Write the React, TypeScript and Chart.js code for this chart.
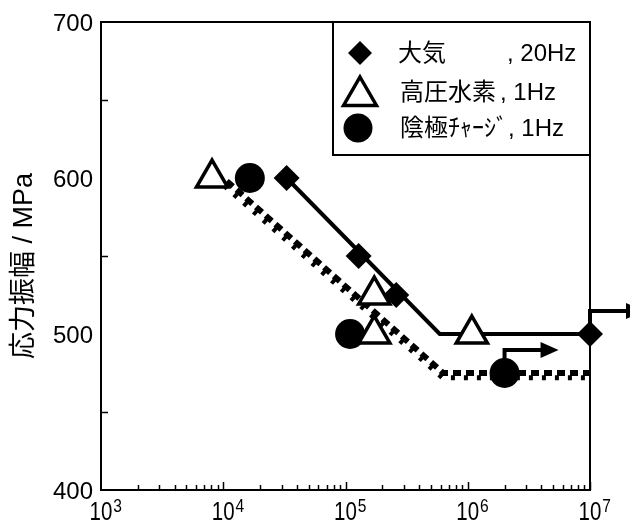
import { useEffect, useRef } from "react";
import { Chart, registerables } from "chart.js";

Chart.register(...registerables);

// ---- data ----
const airCycles = [3.3e4, 1.28e5, 2.6e5, 1e7];
const airStress = [600, 550, 525, 500];
const h2Cycles = [8.1e3, 1.72e5, 1.72e5, 1.08e6];
const h2Stress = [600, 525, 500, 500];
const cathCycles = [1.65e4, 1.09e5, 2.0e6];
const cathStress = [600, 500, 475];

const airFitCycles = [3.3e4, 5.9e5, 1e7];
const airFitStress = [600, 500, 500];
const h2FitCycles = [1.07e4, 6.3e5, 1e7];
const h2FitStress = [598, 475, 475];
const cathFitCycles = [1.02e4, 6.2e5, 1e7];
const cathFitStress = [595, 472, 472];

const runoutCycles = [1e7, 2.0e6];
const runoutStress = [500, 475];

const xTickExponents = [3, 4, 5, 6, 7];
const yTickValues = [400, 500, 600, 700];
const yMinorTicks = [450, 550, 650];

const legendNames = ["大気", "高圧水素", "陰極ﾁｬｰｼﾞ"];
const legendSuffixes = [", 20Hz", ", 1Hz", ", 1Hz"];
const yAxisTitle = "応力振幅 / MPa";

const toXY = (xs: number[], ys: number[]) => xs.map((x, i) => ({ x, y: ys[i] }));

const FONT_NUM = "'Liberation Sans', Arial, sans-serif";
const FONT_JP = "'Liberation Sans', 'Noto Sans CJK JP', sans-serif";

const decorPlugin = {
  id: "decor",
  beforeDatasetsDraw(chart: any) {
    const { ctx, scales } = chart;
    const xs = scales.x;
    const ys = scales.y;
    ctx.save();
    ctx.strokeStyle = "#000";
    ctx.fillStyle = "#000";
    // run-out arrows
    ctx.lineWidth = 4;
    runoutCycles.forEach((c, i) => {
      const px = xs.getPixelForValue(c);
      const py = ys.getPixelForValue(runoutStress[i]);
      const top = py - 23;
      const tip = px + 54;
      ctx.beginPath();
      ctx.moveTo(px, py);
      ctx.lineTo(px, top);
      ctx.lineTo(tip - 14, top);
      ctx.stroke();
      ctx.beginPath();
      ctx.moveTo(tip, top);
      ctx.lineTo(tip - 18, top - 8);
      ctx.lineTo(tip - 18, top + 8);
      ctx.closePath();
      ctx.fill();
    });
    ctx.restore();
  },
  afterDatasetsDraw(chart: any) {
    const { ctx, chartArea: a, scales } = chart;
    const xs = scales.x;
    const ys = scales.y;
    ctx.save();
    ctx.strokeStyle = "#000";
    ctx.fillStyle = "#000";
    ctx.lineWidth = 2;
    ctx.strokeRect(a.left, a.top, a.right - a.left, a.bottom - a.top);

    // x ticks (inward)
    ctx.lineWidth = 1.5;
    for (let n = xTickExponents[0]; n < xTickExponents[xTickExponents.length - 1]; n++) {
      for (let k = 2; k <= 10; k++) {
        const px = Math.round(xs.getPixelForValue(k * Math.pow(10, n))) + 0.5;
        const len = k === 10 ? 8 : 5;
        ctx.beginPath();
        ctx.moveTo(px, a.bottom);
        ctx.lineTo(px, a.bottom - len);
        ctx.stroke();
      }
    }
    // y minor ticks (inward)
    yMinorTicks.forEach((v) => {
      const py = Math.round(ys.getPixelForValue(v)) + 0.5;
      ctx.beginPath();
      ctx.moveTo(a.left, py);
      ctx.lineTo(a.left + 7, py);
      ctx.stroke();
    });

    // y tick labels
    ctx.font = `24px ${FONT_NUM}`;
    ctx.textAlign = "right";
    ctx.textBaseline = "middle";
    yTickValues.forEach((v) => {
      ctx.fillText(String(v), a.left - 8, ys.getPixelForValue(v) + 2);
    });

    // x tick labels with superscripts (slightly condensed)
    xTickExponents.forEach((e) => {
      const px = xs.getPixelForValue(Math.pow(10, e));
      ctx.save();
      ctx.translate(px, a.bottom + 30);
      ctx.scale(0.82, 1);
      ctx.font = `25px ${FONT_NUM}`;
      ctx.textAlign = "center";
      ctx.textBaseline = "alphabetic";
      ctx.fillText("10", 0, 0);
      const w = ctx.measureText("10").width;
      ctx.font = `19px ${FONT_NUM}`;
      ctx.textAlign = "left";
      ctx.fillText(String(e), w / 2 + 1, -8);
      ctx.restore();
    });

    // y axis title
    ctx.save();
    ctx.translate(25, 266);
    ctx.rotate(-Math.PI / 2);
    ctx.font = `27px ${FONT_JP}`;
    ctx.textAlign = "center";
    ctx.textBaseline = "middle";
    ctx.fillText(yAxisTitle, 0, 0);
    ctx.restore();

    // legend box
    const lx = 333;
    const ly = a.top;
    const lw = a.right - lx;
    const lh = 133;
    ctx.fillStyle = "#fff";
    ctx.fillRect(lx, ly, lw, lh);
    ctx.lineWidth = 2;
    ctx.strokeRect(lx, ly, lw, lh);
    ctx.fillStyle = "#000";
    const rowY = [53, 92, 128];
    // diamond
    ctx.beginPath();
    ctx.moveTo(360, rowY[0] - 12);
    ctx.lineTo(372, rowY[0]);
    ctx.lineTo(360, rowY[0] + 12);
    ctx.lineTo(348, rowY[0]);
    ctx.closePath();
    ctx.fill();
    // triangle
    ctx.beginPath();
    const r = 19;
    ctx.moveTo(360, rowY[1] - r + 4);
    ctx.lineTo(360 + r * 0.866, rowY[1] + r / 2 + 4);
    ctx.lineTo(360 - r * 0.866, rowY[1] + r / 2 + 4);
    ctx.closePath();
    ctx.fillStyle = "#fff";
    ctx.fill();
    ctx.lineWidth = 3.5;
    ctx.stroke();
    ctx.fillStyle = "#000";
    // circle
    ctx.beginPath();
    ctx.arc(358, rowY[2], 14.5, 0, Math.PI * 2);
    ctx.fill();
    // texts
    ctx.font = `24px ${FONT_JP}`;
    ctx.textAlign = "left";
    ctx.textBaseline = "middle";
    const nameX = [398, 400, 400];
    const suffixX = [507, 500, 0];
    legendNames.forEach((nm, i) => {
      ctx.fillText(nm, nameX[i], rowY[i] + 1);
      const end = nameX[i] + ctx.measureText(nm).width;
      ctx.fillText(legendSuffixes[i], Math.max(end, suffixX[i]), rowY[i] + 1);
    });
    ctx.restore();
  },
};

export default function App() {
  const ref = useRef<HTMLCanvasElement | null>(null);
  useEffect(() => {
    document.body.style.margin = "0";
    if (!ref.current) return;
    const chart = new Chart(ref.current, {
      type: "scatter",
      data: {
        datasets: [
          {
            label: "高圧水素",
            data: toXY(h2Cycles, h2Stress),
            pointStyle: "triangle",
            pointRadius: 18,
            pointHoverRadius: 18,
            backgroundColor: "#fff",
            borderColor: "#000",
            pointBorderWidth: 3.5,
            showLine: false,
            clip: false,
          } as any,
          {
            label: "陰極チャージ",
            data: toXY(cathCycles, cathStress),
            pointStyle: "circle",
            pointRadius: 15,
            pointHoverRadius: 15,
            backgroundColor: "#000",
            borderColor: "#000",
            pointBorderWidth: 0,
            showLine: false,
            clip: false,
          } as any,
          {
            label: "大気",
            data: toXY(airCycles, airStress),
            pointStyle: "rectRot",
            pointRadius: 13,
            pointHoverRadius: 13,
            backgroundColor: "#000",
            borderColor: "#000",
            pointBorderWidth: 0,
            showLine: false,
            clip: false,
          } as any,
          {
            label: "大気 fit",
            data: toXY(airFitCycles, airFitStress),
            showLine: true,
            borderColor: "#000",
            borderWidth: 4,
            pointRadius: 0,
            clip: false,
          } as any,
          {
            label: "高圧水素 fit",
            data: toXY(h2FitCycles, h2FitStress),
            showLine: true,
            borderColor: "#000",
            borderWidth: 6,
            borderDash: [8, 5],
            pointRadius: 0,
            clip: false,
          } as any,
          {
            label: "陰極 fit",
            data: toXY(cathFitCycles, cathFitStress),
            showLine: true,
            borderColor: "#000",
            borderWidth: 5,
            borderDash: [4, 9],
            pointRadius: 0,
            clip: false,
          } as any,
        ],
      },
      options: {
        animation: false,
        responsive: true,
        maintainAspectRatio: false,
        layout: { padding: { left: 101, right: 40, top: 22, bottom: 31 } },
        plugins: { legend: { display: false }, tooltip: { enabled: false } },
        scales: {
          x: { type: "logarithmic", min: 1e3, max: 1e7, display: false },
          y: { type: "linear", min: 400, max: 700, display: false },
        },
      },
      plugins: [decorPlugin],
    });
    return () => chart.destroy();
  }, []);
  return (
    <div style={{ width: 630, height: 521, position: "relative" }}>
      <canvas ref={ref} />
    </div>
  );
}
